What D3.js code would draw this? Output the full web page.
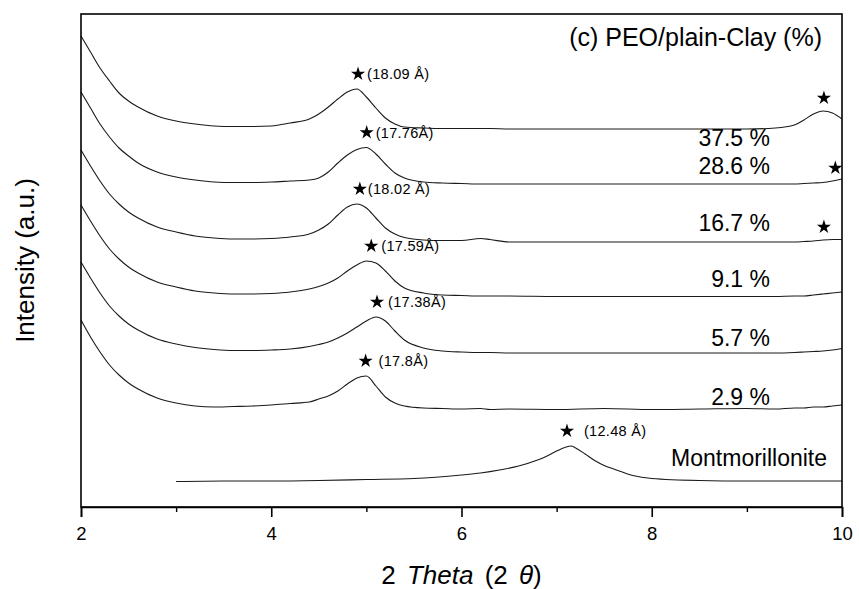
<!DOCTYPE html>
<html>
<head>
<meta charset="utf-8">
<script src="https://cdn.jsdelivr.net/npm/d3@7"></script>
<style>
  html, body { margin: 0; padding: 0; background: #fff; }
  svg { display: block; font-family: "Liberation Sans", Arial, Helvetica, sans-serif; }
</style>
</head>
<body>
<svg id="chart" width="859" height="589"></svg>
<script>
// ---- XRD patterns, PEO / plain clay composites (intensity in a.u.) ----
const twoTheta = [2.0, 2.1, 2.2, 2.3, 2.4, 2.5, 2.6, 2.8, 3.0, 3.2, 3.4, 3.6, 3.8, 4.0, 4.2, 4.4,
  4.5, 4.6, 4.7, 4.8, 4.9, 5.0, 5.1, 5.2, 5.3, 5.4, 5.6, 5.8, 6.0, 6.2, 6.3, 6.5,
  7.0, 7.5, 8.0, 8.5, 9.0, 9.3, 9.5, 9.6, 9.7, 9.8, 9.9, 10.0];

const clay375 = [471, 455, 439, 426, 414, 406, 400, 391, 386, 383, 381, 380.5, 380.5, 381, 384, 388,
  393, 400, 408, 415, 418, 410, 399, 389, 383, 380, 379, 378.5, 378.5, 378.5, 378.5, 378,
  378, 378, 378, 378, 378, 379, 382, 387, 393, 396, 394, 388];
const clay286 = [415, 399, 383, 370, 359, 351, 344, 335, 330, 327, 325, 324.5, 324.5, 325, 326, 327,
  329, 335, 344, 352, 357.5, 359.5, 353, 343, 334, 329, 325, 324, 323.5, 323, 323, 323,
  323, 323, 323, 323, 323, 323, 323, 323.5, 324, 324.5, 326, 328];
const clay167 = [357, 341, 326, 313, 303, 295, 289, 280, 275, 271, 269, 268, 268, 268.5, 270, 273,
  277, 283, 292, 300, 303, 299, 289, 279, 273, 269.5, 267, 266.5, 266.5, 268.5, 267.5, 265,
  265, 265, 265, 265, 265, 265, 265, 265.5, 266, 267, 267.5, 267.5];
const clay91 = [302, 286, 271, 258, 248, 240, 234, 225, 220, 216, 214, 213, 213, 213.5, 215, 218,
  220.5, 224, 229, 236, 242, 246, 244, 236, 226, 219, 214, 212, 211.5, 211, 211, 211,
  210.5, 210.5, 210.5, 210.5, 210.5, 210.5, 211, 211, 212, 213, 214, 215];
const clay57 = [245, 229, 214, 201, 191, 183, 177, 168, 163, 159.5, 157.5, 156.5, 156.5, 157, 158, 160.5,
  162.5, 165, 169, 174, 180, 186, 190, 186, 176, 167, 159, 156, 155, 154.5, 154.5, 154,
  154, 154, 154, 154, 154, 154, 154.5, 155, 155.5, 156, 157, 158.5];
const clay29 = [187, 170, 155, 142, 132, 124, 118, 109, 104, 101, 100, 100.5, 101, 102, 103.5, 105,
  108, 111, 116, 123, 129, 131, 121, 110, 104, 101, 99, 98.5, 98, 98.5, 97.5, 98,
  97.5, 98.5, 97.5, 98, 98.5, 98, 99, 99, 100, 100, 101, 102];

const montTheta = [3.0, 3.5, 4.0, 4.5, 5.0, 5.5, 6.0, 6.2, 6.4, 6.6, 6.8, 6.9, 7.0, 7.1, 7.15, 7.2,
  7.3, 7.4, 7.5, 7.6, 7.8, 8.0, 8.5, 9.0, 9.5, 10.0];
const montI = [25.5, 26, 26, 26.5, 27.5, 28.5, 32, 34, 37, 41, 47, 51, 56, 60, 61, 59,
  53, 46.5, 41.5, 38, 31.5, 28.5, 26.5, 26, 26, 26];

const seriesNames = ["37.5 %", "28.6 %", "16.7 %", "9.1 %", "5.7 %", "2.9 %", "Montmorillonite"];
// basal spacings d001 (Å) of the marked reflections
const dSpacing = [18.09, 17.76, 18.02, 17.59, 17.38, 17.8, 12.48];
const dLabels = ["(18.09 Å)", "(17.76Å)", "(18.02 Å)", "(17.59Å)", "(17.38Å)", "(17.8Å)", "(12.48 Å)"];
// second-order reflections marked near the right edge (first three patterns)
const secondOrderTheta = [9.81, 9.93, 9.81];

const xMajorTicks = [2, 4, 6, 8, 10];
const xMinorTicks = [3, 5, 7, 9];

// ---- layout ----
const W = 859, H = 589;
const margin = { left: 81, right: 17, top: 14, bottom: 82 };
const plotW = W - margin.left - margin.right;
const plotH = H - margin.top - margin.bottom;

// label placement (in data units) and text offsets
const seriesLabelY = [361, 333, 276, 220, 161, 102, 41];
const seriesLabelX = [9.243, 9.243, 9.243, 9.243, 9.243, 9.243, 9.843];
const dLabelGap = [9, 9, 8, 10, 11, 13, 17];
const LAMBDA = 1.5406; // Cu Kα wavelength, Å

const svg = d3.select("#chart");
const g = svg.append("g").attr("transform", `translate(${margin.left},${margin.top})`);

const x = d3.scaleLinear().domain([2, 10]).range([0, plotW]);
const y = d3.scaleLinear().domain([0, 493]).range([plotH, 0]);

const composites = [clay375, clay286, clay167, clay91, clay57, clay29];
const series = composites.map(vals => twoTheta.map((t, i) => [t, vals[i]]));
series.push(montTheta.map((t, i) => [t, montI[i]]));

const line = d3.line()
  .x(d => x(d[0]))
  .y(d => y(d[1]))
  .curve(d3.curveMonotoneX);

g.append("g")
  .selectAll("path")
  .data(series)
  .join("path")
  .attr("d", line)
  .attr("fill", "none")
  .attr("stroke", "#1a1a1a")
  .attr("stroke-width", 1.1);

// frame
g.append("rect")
  .attr("x", 0).attr("y", 0)
  .attr("width", plotW).attr("height", plotH)
  .attr("fill", "none").attr("stroke", "#000").attr("stroke-width", 1.6);

// x axis with major / minor ticks
const xAxis = d3.axisBottom(x).tickValues(xMajorTicks).tickSize(10).tickPadding(10)
  .tickFormat(d3.format("d"));
const ax = g.append("g").attr("transform", `translate(0,${plotH})`).call(xAxis);
ax.select(".domain").attr("stroke-width", 1.6);
ax.selectAll(".tick line").attr("stroke-width", 1.6);
ax.selectAll(".tick text").attr("font-size", 18.5).attr("font-family", null).attr("fill", "#000");

const axm = g.append("g").attr("transform", `translate(0,${plotH})`)
  .call(d3.axisBottom(x).tickValues(xMinorTicks).tickSize(5).tickFormat(""));
axm.select(".domain").remove();
axm.selectAll(".tick line").attr("stroke-width", 1.4);

// axis titles
const xt = svg.append("text")
  .attr("x", margin.left + x(6)).attr("y", 584)
  .attr("text-anchor", "middle").attr("font-size", 26).attr("word-spacing", 4).attr("fill", "#000");
xt.append("tspan").text("2 ");
xt.append("tspan").attr("font-style", "italic").text("Theta");
xt.append("tspan").text(" (2 ");
xt.append("tspan").attr("font-style", "italic").text("θ");
xt.append("tspan").text(")");

svg.append("text")
  .attr("transform", `translate(34,${margin.top + plotH / 2}) rotate(-90)`)
  .attr("text-anchor", "middle").attr("font-size", 26).attr("fill", "#000")
  .text("Intensity (a.u.)");

// panel title
g.append("text")
  .attr("x", 822 - margin.left).attr("y", 46 - margin.top)
  .attr("text-anchor", "end").attr("font-size", 25).attr("fill", "#000")
  .text("(c) PEO/plain-Clay (%)");

// series labels
g.append("g").selectAll("text")
  .data(seriesNames)
  .join("text")
  .attr("x", (d, i) => x(seriesLabelX[i]))
  .attr("y", (d, i) => y(seriesLabelY[i]))
  .attr("text-anchor", "end").attr("font-size", 23).attr("fill", "#000")
  .text(d => d);

// basal reflection markers: position from Bragg's law, height from the pattern maximum
const star = d3.symbol().type(d3.symbolStar).size(62);
const braggTwoTheta = d => 2 * Math.asin(LAMBDA / (2 * d)) * 180 / Math.PI;

const marks = dSpacing.map((d, i) => {
  const tt = braggTwoTheta(d);
  const near = series[i].filter(p => Math.abs(p[0] - tt) <= 0.35);
  const peak = d3.max(near, p => p[1]);
  return { sx: x(tt) + 3, sy: y(peak) - 15, label: dLabels[i], gap: dLabelGap[i] };
});

const mk = g.append("g").selectAll("g").data(marks).join("g")
  .attr("transform", m => `translate(${m.sx},${m.sy})`);
mk.append("path").attr("d", star).attr("fill", "#000");
mk.append("text")
  .attr("x", m => m.gap).attr("y", 0).attr("dy", "0.36em")
  .attr("font-size", 14.5).attr("letter-spacing", 0.3).attr("fill", "#000")
  .text(m => m.label);

// second-order markers
g.append("g").selectAll("path")
  .data(secondOrderTheta)
  .join("path")
  .attr("d", star)
  .attr("fill", "#000")
  .attr("transform", (t, i) => {
    const nearest = series[i].reduce((a, b) => Math.abs(b[0] - t) < Math.abs(a[0] - t) ? b : a);
    return `translate(${x(t)},${y(nearest[1]) - 13})`;
  });
</script>
</body>
</html>
